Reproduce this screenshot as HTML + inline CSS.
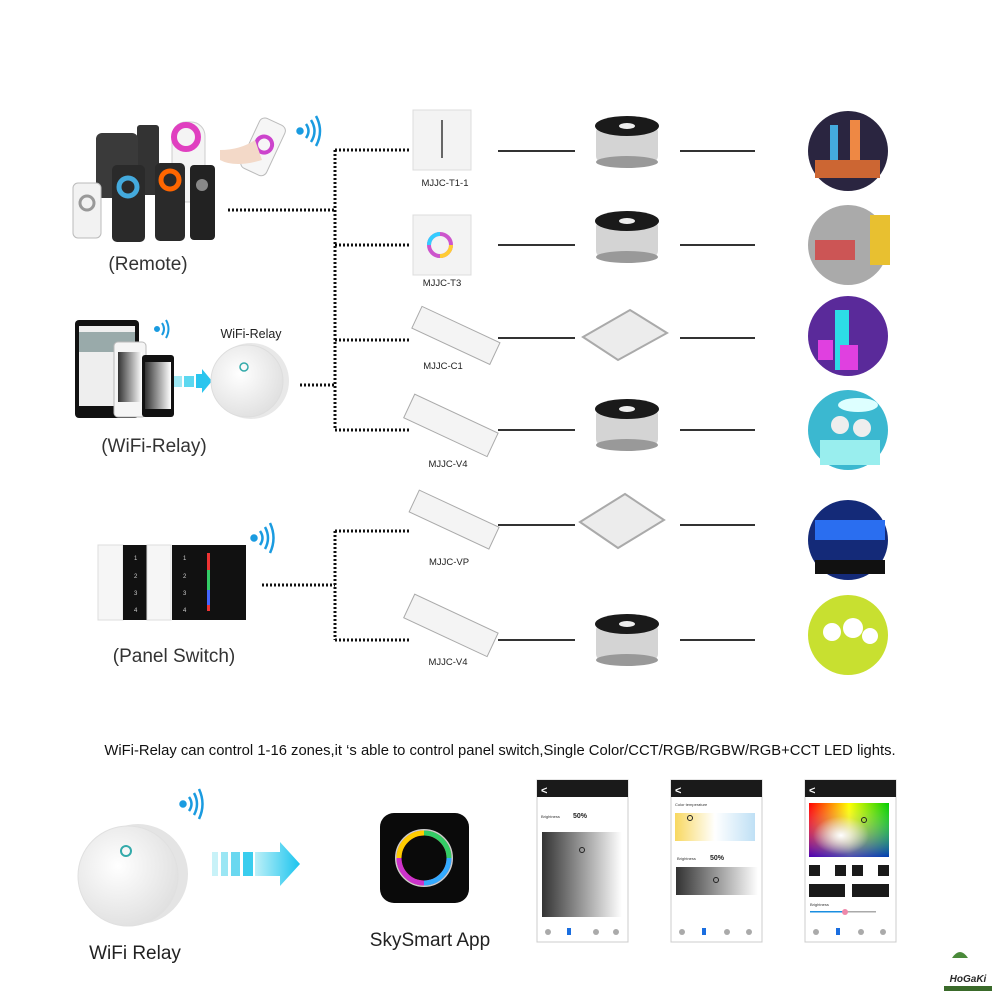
<!DOCTYPE html>
<html><head><meta charset="utf-8"><style>
html,body{margin:0;padding:0;background:#fff;}
svg{display:block;}
text{font-family:"Liberation Sans",sans-serif;}
</style></head><body>
<svg width="1000" height="1000" viewBox="0 0 1000 1000" xmlns="http://www.w3.org/2000/svg">
<defs>
<linearGradient id="gray" x1="0" x2="1"><stop offset="0" stop-color="#333"/><stop offset="1" stop-color="#fff"/></linearGradient>
<linearGradient id="ct" x1="0" x2="1"><stop offset="0" stop-color="#f8d860"/><stop offset="0.5" stop-color="#fff"/><stop offset="1" stop-color="#bfe0f5"/></linearGradient>
<linearGradient id="hue" x1="0" x2="1"><stop offset="0" stop-color="#f00"/><stop offset="0.5" stop-color="#ff0"/><stop offset="1" stop-color="#0c0"/></linearGradient>
<linearGradient id="hueV" x1="0" y1="0" x2="0" y2="1"><stop offset="0" stop-color="#fff" stop-opacity="0"/><stop offset="1" stop-color="#00f" stop-opacity="0.7"/></linearGradient>
<radialGradient id="wh" cx="0.4" cy="0.6" r="0.35"><stop offset="0" stop-color="#fff"/><stop offset="1" stop-color="#fff" stop-opacity="0"/></radialGradient>
<linearGradient id="arrow" x1="0" x2="1"><stop offset="0" stop-color="#bdf0f8"/><stop offset="1" stop-color="#1ac4ee"/></linearGradient>
<radialGradient id="relay" cx="0.4" cy="0.4" r="0.7"><stop offset="0" stop-color="#fff"/><stop offset="1" stop-color="#ddd"/></radialGradient>
</defs>

<!-- Remote cluster -->
<rect x="137" y="125" width="22" height="70" rx="3" fill="#333"/>
<rect x="96" y="133" width="42" height="65" rx="6" fill="#3a3a3a"/>
<rect x="172" y="122" width="33" height="80" rx="14" fill="#f4f4f4" stroke="#ccc"/>
<circle cx="186" cy="137" r="12" fill="none" stroke="#e040c0" stroke-width="6"/>
<rect x="73" y="183" width="28" height="55" rx="5" fill="#f2f2f2" stroke="#bbb"/>
<circle cx="87" cy="203" r="7" fill="none" stroke="#999" stroke-width="3"/>
<rect x="112" y="165" width="33" height="77" rx="5" fill="#2a2a2a"/>
<circle cx="128" cy="187" r="9" fill="none" stroke="#4ad" stroke-width="5"/>
<rect x="155" y="163" width="30" height="78" rx="5" fill="#2a2a2a"/>
<circle cx="170" cy="180" r="9" fill="none" stroke="#f60" stroke-width="5"/>
<rect x="190" y="165" width="25" height="75" rx="4" fill="#222"/>
<circle cx="202" cy="185" r="6" fill="#888"/>
<g transform="rotate(25 265 145)"><rect x="250" y="120" width="28" height="55" rx="6" fill="#f6f6f6" stroke="#bbb"/><circle cx="264" cy="145" r="8" fill="none" stroke="#c4c" stroke-width="4"/></g>
<path d="M220 150 Q240 150 255 140 L262 160 Q235 168 220 160Z" fill="#f3d9c8"/>
<g fill="none" stroke="#1a9be0" stroke-width="2.5"><circle cx="300" cy="131" r="2.5" fill="#1a9be0"/><path d="M306 124 Q311 131 306 138"/><path d="M311 120 Q318 131 311 142"/><path d="M316 116 Q324 131 316 146"/></g>
<text x="148" y="270" font-size="19" text-anchor="middle" fill="#333">(Remote)</text>

<!-- WiFi relay section -->
<rect x="75" y="320" width="64" height="98" rx="4" fill="#111"/>
<rect x="79" y="326" width="56" height="80" fill="#eee"/>
<rect x="79" y="332" width="56" height="20" fill="#9aa"/>
<rect x="114" y="342" width="32" height="75" rx="4" fill="#f5f5f5" stroke="#bbb"/>
<rect x="118" y="352" width="24" height="50" fill="url(#gray)"/>
<rect x="142" y="355" width="32" height="62" rx="3" fill="#111"/>
<rect x="145" y="362" width="26" height="47" fill="url(#gray)"/>
<g fill="none" stroke="#1a9be0" stroke-width="2"><circle cx="157" cy="329" r="2" fill="#1a9be0"/><path d="M162 323 Q166 329 162 335"/><path d="M166 320 Q171 329 166 338"/></g>
<rect x="174" y="376" width="8" height="11" fill="#9ee8f4"/><rect x="184" y="376" width="10" height="11" fill="#5cd8f0"/><path d="M196 374 h6 v-5 l10 12 -10 12 v-5 h-6z" fill="#2ac5ee"/>
<circle cx="251" cy="381" r="38" fill="#e8e8e8"/>
<circle cx="247" cy="381" r="36" fill="url(#relay)" stroke="#ddd"/>
<circle cx="244" cy="367" r="4" fill="none" stroke="#3aa" stroke-width="1.5"/>
<text x="251" y="338" font-size="12.5" text-anchor="middle" fill="#222">WiFi-Relay</text>
<text x="154" y="452" font-size="19" text-anchor="middle" fill="#333">(WiFi-Relay)</text>

<!-- Panel switch -->
<rect x="98" y="545" width="25" height="75" fill="#f6f6f6" stroke="#ddd"/>
<rect x="123" y="545" width="24" height="75" fill="#111"/>
<rect x="147" y="545" width="24" height="75" fill="#f6f6f6" stroke="#ddd"/>
<rect x="172" y="545" width="74" height="75" fill="#111"/>
<rect x="207" y="553" width="3" height="58" fill="#e33"/><rect x="207" y="570" width="3" height="20" fill="#3c6"/><rect x="207" y="590" width="3" height="15" fill="#46f"/>
<g font-size="6" fill="#ccc"><text x="134" y="560">1</text><text x="134" y="578">2</text><text x="134" y="595">3</text><text x="134" y="612">4</text><text x="183" y="560">1</text><text x="183" y="578">2</text><text x="183" y="595">3</text><text x="183" y="612">4</text></g>
<g fill="none" stroke="#1a9be0" stroke-width="2.5"><circle cx="254" cy="538" r="2.5" fill="#1a9be0"/><path d="M260 531 Q265 538 260 545"/><path d="M265 527 Q271 538 265 549"/><path d="M270 523 Q277 538 270 553"/></g>
<text x="174" y="662" font-size="19" text-anchor="middle" fill="#333">(Panel Switch)</text>

<!-- Dotted connectors -->
<g stroke="#111" stroke-width="3" stroke-dasharray="2 2" fill="none">
<path d="M228 210 H335"/>
<path d="M335 150 V430"/>
<path d="M335 150 H410 M335 245 H410 M335 340 H410 M335 430 H410"/>
<path d="M300 385 H335"/>
<path d="M262 585 H335"/>
<path d="M335 531 V640"/>
<path d="M335 531 H410 M335 640 H410"/>
</g>

<!-- Controllers -->
<rect x="413" y="110" width="58" height="60" fill="#f3f3f3" stroke="#ddd"/>
<rect x="441" y="120" width="2" height="38" fill="#666"/>
<text x="445" y="186" font-size="9.5" text-anchor="middle" fill="#222">MJJC-T1-1</text>
<rect x="413" y="215" width="58" height="60" fill="#f3f3f3" stroke="#ddd"/>
<circle cx="440" cy="245" r="11" fill="none" stroke="#c5c" stroke-width="4"/>
<path d="M429 245 a11 11 0 0 1 11 -11" fill="none" stroke="#3cf" stroke-width="4"/>
<path d="M440 256 a11 11 0 0 0 11 -11" fill="none" stroke="#fc3" stroke-width="4"/>
<text x="442" y="286" font-size="9.5" text-anchor="middle" fill="#222">MJJC-T3</text>
<g transform="rotate(25 455 335)"><rect x="413" y="323" width="86" height="24" fill="#f4f4f4" stroke="#aaa"/></g>
<text x="443" y="369" font-size="9.5" text-anchor="middle" fill="#222">MJJC-C1</text>
<g transform="rotate(25 450 425)"><rect x="405" y="412" width="92" height="26" fill="#f4f4f4" stroke="#aaa"/></g>
<text x="448" y="467" font-size="9.5" text-anchor="middle" fill="#222">MJJC-V4</text>
<g transform="rotate(25 455 520)"><rect x="410" y="508" width="88" height="24" fill="#f4f4f4" stroke="#aaa"/></g>
<text x="449" y="565" font-size="9.5" text-anchor="middle" fill="#222">MJJC-VP</text>
<g transform="rotate(25 450 625)"><rect x="405" y="612" width="92" height="26" fill="#f4f4f4" stroke="#aaa"/></g>
<text x="448" y="665" font-size="9.5" text-anchor="middle" fill="#222">MJJC-V4</text>

<!-- Solid lines -->
<g stroke="#333" stroke-width="2">
<path d="M498 151 H575 M680 151 H755"/>
<path d="M498 245 H575 M680 245 H755"/>
<path d="M498 338 H575 M680 338 H755"/>
<path d="M498 430 H575 M680 430 H755"/>
<path d="M498 525 H575 M680 525 H755"/>
<path d="M498 640 H575 M680 640 H755"/>
</g>

<!-- Light products -->
<g id="reel">
<rect x="596" y="126" width="62" height="36" rx="6" fill="#d4d4d4"/>
<ellipse cx="627" cy="126" rx="32" ry="10" fill="#1a1a1a"/>
<ellipse cx="627" cy="126" rx="8" ry="3" fill="#eee"/>
<ellipse cx="627" cy="162" rx="31" ry="6" fill="#999"/>
</g>
<use href="#reel" y="95"/>
<use href="#reel" y="283"/>
<use href="#reel" y="498"/>
<polygon points="583,337 630,310 667,333 618,360" fill="#ececec" stroke="#aaa" stroke-width="2"/>
<polygon points="580,522 625,494 664,520 618,548" fill="#ececec" stroke="#aaa" stroke-width="2"/>

<!-- Scene circles -->
<circle cx="848" cy="151" r="40" fill="#2a2540"/><rect x="830" y="125" width="8" height="40" fill="#4ad"/><rect x="850" y="120" width="10" height="50" fill="#e84"/><rect x="815" y="160" width="65" height="18" fill="#c63"/>
<circle cx="848" cy="245" r="40" fill="#aaa"/><rect x="870" y="215" width="20" height="50" fill="#e8c030"/><rect x="815" y="240" width="40" height="20" fill="#c55"/>
<circle cx="848" cy="336" r="40" fill="#5a2a9a"/><rect x="835" y="310" width="14" height="60" fill="#2ddce6"/><rect x="840" y="345" width="18" height="25" fill="#e040e0"/><rect x="818" y="340" width="15" height="20" fill="#e040e0"/>
<circle cx="848" cy="430" r="40" fill="#3bb8d0"/><ellipse cx="858" cy="405" rx="20" ry="7" fill="#dff"/><rect x="820" y="440" width="60" height="25" fill="#9ee"/><circle cx="840" cy="425" r="9" fill="#eee"/><circle cx="862" cy="428" r="9" fill="#eee"/>
<circle cx="848" cy="540" r="40" fill="#142a78"/><rect x="815" y="520" width="70" height="20" fill="#2a6ef0"/><rect x="815" y="560" width="70" height="14" fill="#111"/>
<circle cx="848" cy="635" r="40" fill="#c8e030"/><circle cx="832" cy="632" r="9" fill="#fff"/><circle cx="853" cy="628" r="10" fill="#fff"/><circle cx="870" cy="636" r="8" fill="#fff"/>

<!-- Caption -->
<text x="500" y="755" font-size="14.8" text-anchor="middle" fill="#111">WiFi-Relay can control 1-16 zones,it ‘s able to control panel switch,Single Color/CCT/RGB/RGBW/RGB+CCT LED lights.</text>

<!-- Bottom -->
<circle cx="138" cy="874" r="50" fill="#e4e4e4"/>
<circle cx="128" cy="876" r="50" fill="url(#relay)" stroke="#e0e0e0"/>
<circle cx="126" cy="851" r="5" fill="none" stroke="#3aa" stroke-width="2"/>
<g fill="none" stroke="#1a9be0" stroke-width="2.5"><circle cx="183" cy="804" r="2.5" fill="#1a9be0"/><path d="M189 797 Q194 804 189 811"/><path d="M194 793 Q200 804 194 815"/><path d="M199 789 Q206 804 199 819"/></g>
<rect x="212" y="852" width="6" height="24" fill="#c8f2f8"/><rect x="221" y="852" width="7" height="24" fill="#9ae6f4"/><rect x="231" y="852" width="9" height="24" fill="#6ad8f0"/><rect x="243" y="852" width="10" height="24" fill="#3acdee"/>
<path d="M255 852 h25 v-10 l20 22 -20 22 v-10 h-25z" fill="url(#arrow)"/>
<text x="135" y="959" font-size="19" text-anchor="middle" fill="#222">WiFi Relay</text>
<rect x="380" y="813" width="89" height="90" rx="14" fill="#0a0a0a"/>
<circle cx="424" cy="858" r="28" fill="none" stroke="#ccc" stroke-width="2"/>
<circle cx="424" cy="858" r="25" fill="none" stroke="#e33" stroke-width="5"/>
<path d="M399 858 a25 25 0 0 1 25 -25" fill="none" stroke="#fc0" stroke-width="5"/>
<path d="M424 883 a25 25 0 0 1 -25 -25" fill="none" stroke="#c3c" stroke-width="5"/>
<path d="M449 858 a25 25 0 0 1 -25 25" fill="none" stroke="#3af" stroke-width="5"/>
<path d="M424 833 a25 25 0 0 1 25 25" fill="none" stroke="#3c6" stroke-width="5"/>
<text x="430" y="946" font-size="19" text-anchor="middle" fill="#222">SkySmart App</text>

<!-- phone screens -->
<g>
<rect x="537" y="780" width="91" height="162" fill="#fff" stroke="#ccc"/>
<rect x="537" y="780" width="91" height="17" fill="#1a1a1a"/><text x="541" y="794" font-size="11" fill="#fff" font-weight="bold">&lt;</text>
<text x="541" y="818" font-size="4" fill="#333">Brightness</text><text x="573" y="818" font-size="7" font-weight="bold" fill="#222">50%</text>
<rect x="542" y="832" width="80" height="85" fill="url(#gray)"/>
<circle cx="582" cy="850" r="2.5" fill="none" stroke="#222"/>
<g fill="#aaa"><circle cx="548" cy="932" r="3"/><circle cx="596" cy="932" r="3"/><circle cx="616" cy="932" r="3"/></g><rect x="567" y="928" width="4" height="7" fill="#1a6ee0"/>
</g>
<g>
<rect x="671" y="780" width="91" height="162" fill="#fff" stroke="#ccc"/>
<rect x="671" y="780" width="91" height="17" fill="#1a1a1a"/><text x="675" y="794" font-size="11" fill="#fff" font-weight="bold">&lt;</text>
<text x="675" y="806" font-size="4" fill="#333">Color temperature</text>
<rect x="675" y="813" width="80" height="28" fill="url(#ct)"/><circle cx="690" cy="818" r="2.5" fill="none" stroke="#222"/>
<text x="677" y="860" font-size="4" fill="#333">Brightness</text><text x="710" y="860" font-size="7" font-weight="bold" fill="#222">50%</text>
<rect x="676" y="867" width="82" height="28" fill="url(#gray)"/><circle cx="716" cy="880" r="2.5" fill="none" stroke="#222"/>
<g fill="#aaa"><circle cx="682" cy="932" r="3"/><circle cx="727" cy="932" r="3"/><circle cx="749" cy="932" r="3"/></g><rect x="702" y="928" width="4" height="7" fill="#1a6ee0"/>
</g>
<g>
<rect x="805" y="780" width="91" height="162" fill="#fff" stroke="#ccc"/>
<rect x="805" y="780" width="91" height="17" fill="#1a1a1a"/><text x="809" y="794" font-size="11" fill="#fff" font-weight="bold">&lt;</text>
<rect x="809" y="803" width="80" height="54" fill="url(#hue)"/><rect x="809" y="803" width="80" height="54" fill="url(#hueV)"/><rect x="809" y="803" width="80" height="54" fill="url(#wh)"/>
<circle cx="864" cy="820" r="2.5" fill="none" stroke="#222"/>
<g fill="#1a1a1a"><rect x="809" y="865" width="11" height="11"/><rect x="835" y="865" width="11" height="11"/><rect x="852" y="865" width="11" height="11"/><rect x="878" y="865" width="11" height="11"/><rect x="809" y="884" width="36" height="13"/><rect x="852" y="884" width="37" height="13"/></g>
<text x="810" y="906" font-size="4" fill="#333">Brightness</text>
<rect x="810" y="911" width="66" height="1.5" fill="#aaa"/><rect x="810" y="911" width="34" height="1.5" fill="#1a8ee0"/><circle cx="845" cy="912" r="3" fill="#e8a"/>
<g fill="#aaa"><circle cx="816" cy="932" r="3"/><circle cx="861" cy="932" r="3"/><circle cx="883" cy="932" r="3"/></g><rect x="836" y="928" width="4" height="7" fill="#1a6ee0"/>
</g>

<!-- logo -->
<path d="M952 958 q8 -12 16 0z" fill="#4a8a3a"/>
<text x="968" y="982" font-size="10" font-style="italic" font-weight="bold" text-anchor="middle" fill="#2a2a2a" font-family="Liberation Serif">HoGaKi</text>
<rect x="944" y="986" width="48" height="5" fill="#3a6a2a"/>
</svg>
</body></html>
